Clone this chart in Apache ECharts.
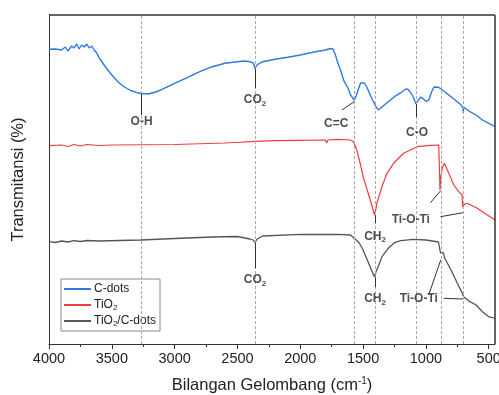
<!DOCTYPE html>
<html>
<head>
<meta charset="utf-8">
<script src="https://cdn.jsdelivr.net/npm/echarts@6/dist/echarts.min.js"></script>
<style>html,body{margin:0;padding:0;background:#fff}#c{width:499px;height:395px}</style>
</head>
<body>
<div id="c"></div>
<script>
// ---- DATA (wavenumber cm-1, relative transmittance, arbitrary offset units) ----
const seriesNames = ['C-dots', 'TiO2', 'TiO2/C-dots'];
const cdotsWn = [4000,3950,3900,3870,3850,3820,3800,3780,3760,3740,3720,3700,3680,3660,3640,3620,3600,3550,3500,3450,3400,3350,3300,3250,3200,3150,3100,3000,2900,2800,2700,2600,2500,2450,2400,2375,2360,2345,2300,2200,2100,2000,1900,1800,1760,1740,1720,1700,1680,1650,1620,1600,1585,1570,1555,1540,1520,1505,1490,1470,1450,1425,1400,1380,1368,1350,1300,1250,1200,1160,1140,1120,1100,1080,1060,1040,1020,995,977,955,935,920,900,850,800,750,720,705,703,700,650,600,550,500,450];
const cdotsT  = [294.7,295,294,297,293,298,296,300,295,299,297,300,296,298,294,291,286,277,269,262,257,253.5,251.3,250.3,250.3,252,254.7,260.7,266.3,272.3,277.3,280.7,282.3,283,282.3,281,275.7,279,282.3,284.7,286.7,289,291.7,294,295.5,295,289,280.7,274,262.3,256,249,247,244,248,254,261,263,261,257,251,244,238,234,233,237,242.3,247.3,251.3,255,254.5,251,247,240,244,247,245,242.5,244,252,257,258,256.7,252.3,247.3,242.3,239,236,231,237,232.3,229,224,220.7,217.5];
const tio2Wn = [4000,3900,3850,3800,3750,3700,3600,3500,3000,2600,2530,2520,2500,2400,2200,2000,1800,1790,1780,1700,1600,1575,1550,1520,1496,1443,1420,1409,1395,1390,1350,1310,1257,1177,1070,964,898,892,888,882,870,853,818,778,738,712,708,690,671,591,511,450];
const tio2T  = [198.3,199,197.5,199.5,198,199.5,198.5,199,199.5,201,201.5,199.5,201.5,202.3,203.3,203.7,204,201,204,204.7,204,202.3,194,179,165.7,144,134,129,137,141,157.3,170.7,180.7,190.7,197.3,198.7,199,174,154,166,176,180.7,170.7,159,152.3,149,137.3,140,140.7,135.7,129,124];
const compWn = [4000,3950,3900,3850,3800,3750,3700,3600,3270,3000,2700,2500,2400,2375,2360,2345,2300,2000,1800,1700,1600,1570,1530,1500,1450,1420,1410,1395,1380,1350,1300,1250,1200,1100,1000,900,890,884,875,862,850,800,750,710,700,650,600,550,500,450];
const compT  = [102.3,101.5,103,102,103.3,102.5,103.5,103,104,105.5,107,107.5,105,104,101.3,104.7,108,109.7,109.5,109.7,109,105.7,101,94,79,70,67.3,73,77.3,87.3,95.7,101.3,103.3,104.7,104,102,101,91,92,91.3,85.7,74,60.7,50.7,47.3,42.3,39,32.3,27.3,25.5];
const xTickLabels = [4000,3500,3000,2500,2000,1500,1000,500];
const xMinorTicks = [3750,3250,2750,2250,1750,1250,750];
const bandLines = [3263,2360,1570,1405,1080,880,705];
const xRange = [450, 4000];
const yRange = [0, 329];
// annotation labels: [text, wavenumber, value]
const annLabels = [
  ['O-H',3263,222.3],['CO{s|2}',2360,244],['C=C',1714,220],['C-O',1070,211.3],
  ['CH{s|2}',1405,107.3],['Ti-O-Ti',1120,124],
  ['CO{s|2}',2360,64],['CH{s|2}',1405,45],['Ti-O-Ti',1057,45]
];
// connector segments: [wn1, v1, wn2, v2]
const annLines = [
  [3263,250.3,3263,229],[2360,275.7,2360,256],[1570,242.3,1668,234],[1080,240,1080,227],
  [1405,129,1405,121],[882,153.3,964,141.3],[705,131.3,884,127.3],
  [2360,101.3,2360,75.7],[1405,67,1405,57],[882,84,978,49],[703,45,858,45.7]
];
const colors = ['#2f78e0','#f23c3c','#555555'];

const zip = (a,b) => a.map((x,i)=>[x,b[i]]);
const FONT = 'Liberation Sans, Arial, sans-serif';
const chart = echarts.init(document.getElementById('c'));
const sub = {fontSize: 8, fontWeight: 'bold', fontFamily: FONT, padding: [7,0,0,0], color: '#222'};
const frameStyle = {type: 'solid', color: '#333', width: 1.5};
chart.setOption({
  animation: false,
  textStyle: {fontFamily: FONT},
  grid: {left: 49, right: 4, top: 15, bottom: 51, containLabel: false, outerBoundsMode: 'none'},
  legend: {
    left: 61, top: 279, orient: 'vertical', itemWidth: 27, itemHeight: 2, itemGap: 2, icon: 'rect',
    padding: [3,4,3,3], borderColor: '#888', borderWidth: 1, borderRadius: 0,
    data: seriesNames,
    formatter: n => n.replace('TiO2', 'TiO{s|2}'),
    textStyle: {fontSize: 12, lineHeight: 14, color: '#222', fontFamily: FONT, padding: [0,0,0,-2],
      rich: {s: {fontSize: 8, lineHeight: 8, verticalAlign: 'bottom', color: '#222', fontFamily: FONT}}}
  },
  xAxis: [{
    type: 'value', inverse: true, min: xRange[0], max: xRange[1],
    axisLine: {show: true, onZero: false, lineStyle: {color: '#333'}},
    axisTick: {show: true, length: 5, customValues: xTickLabels, lineStyle: {color: '#333'}},
    axisLabel: {customValues: xTickLabels, formatter: v => String(v), fontSize: 14.5, color: '#222', margin: 7, fontFamily: FONT},
    splitLine: {show: false},
    name: 'Bilangan Gelombang (cm{sup|-1})', nameLocation: 'middle', nameGap: 32,
    nameTextStyle: {fontSize: 16.5, color: '#222', fontFamily: FONT,
      rich: {sup: {fontSize: 10, padding: [0,0,9,0], color: '#222', fontFamily: FONT}}}
  }, {
    type: 'value', inverse: true, min: xRange[0], max: xRange[1], position: 'bottom',
    axisLine: {show: false},
    axisTick: {show: true, length: 3, customValues: xMinorTicks, lineStyle: {color: '#333'}},
    axisLabel: {show: false}, splitLine: {show: false}
  }],
  yAxis: {
    type: 'value', min: yRange[0], max: yRange[1],
    axisLine: {show: true, lineStyle: {color: '#333'}},
    axisTick: {show: false}, axisLabel: {show: false}, splitLine: {show: false},
    name: 'Transmitansi (%)', nameLocation: 'middle', nameGap: 22,
    nameTextStyle: {fontSize: 16.5, color: '#222', fontFamily: FONT}
  },
  series: [
    {name: seriesNames[0], type: 'line', data: zip(cdotsWn, cdotsT), symbol: 'none', color: colors[0], lineStyle: {width: 1.4}},
    {name: seriesNames[1], type: 'line', data: zip(tio2Wn, tio2T), symbol: 'none', color: colors[1], lineStyle: {width: 1.2}},
    {name: seriesNames[2], type: 'line', data: zip(compWn, compT), symbol: 'none', color: colors[2], lineStyle: {width: 1.3}},
    {
      name: 'ann', type: 'scatter', symbolSize: 0, silent: true, z: 5, clip: false,
      data: annLabels.map(a => ({value: [a[1], a[2]], label: {formatter: a[0]}})),
      label: {show: true, position: 'inside', fontSize: 12, fontWeight: 'bold', color: '#222', fontFamily: FONT,
        rich: {s: sub}},
      markLine: {
        silent: true, symbol: 'none', label: {show: false}, animation: false,
        data: [
          ...bandLines.map(v => ({xAxis: v, lineStyle: {type: [3,2], color: '#aaa', width: 1}})),
          ...annLines.map(l => [{coord: [l[0], l[1]], lineStyle: {type: 'solid', color: '#333', width: 1}}, {coord: [l[2], l[3]]}]),
          {yAxis: yRange[1], lineStyle: frameStyle},
          [{coord: [xRange[0] + 3, yRange[0]], lineStyle: frameStyle}, {coord: [xRange[0] + 3, yRange[1]]}]
        ]
      }
    }
  ]
});
</script>
</body>
</html>
